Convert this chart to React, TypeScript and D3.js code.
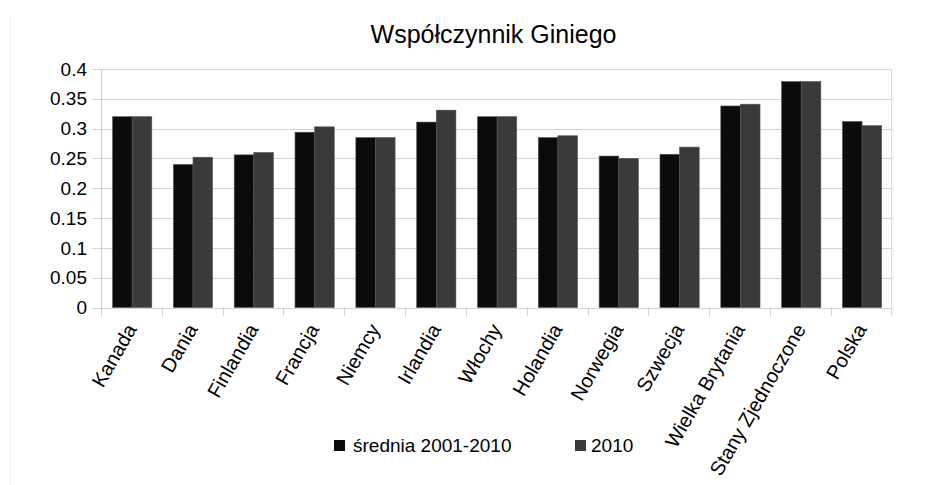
import React from "react";
import * as d3 from "d3";

const countries = [
  "Kanada", "Dania", "Finlandia", "Francja", "Niemcy", "Irlandia", "Włochy",
  "Holandia", "Norwegia", "Szwecja", "Wielka Brytania", "Stany Zjednoczone", "Polska",
];
const avg2001_2010 = [0.32, 0.24, 0.256, 0.294, 0.285, 0.311, 0.32, 0.285, 0.254, 0.257, 0.338, 0.379, 0.312];
const val2010 = [0.32, 0.252, 0.26, 0.303, 0.285, 0.331, 0.32, 0.288, 0.25, 0.269, 0.341, 0.379, 0.305];
const seriesNames = ["średnia 2001-2010", "2010"];
const seriesColors = ["#0b0b0b", "#3a3a3a"];
const yTicks = [0, 0.05, 0.1, 0.15, 0.2, 0.25, 0.3, 0.35, 0.4];
const title = "Współczynnik Giniego";

const W = 942, H = 485;
const left = 101, right = 891.7, top = 69, bottom = 307.5;
const font = "'Liberation Sans', Arial, sans-serif";

export default function App() {
  const x = d3.scaleBand<string>().domain(countries).range([left, right]).padding(0);
  const bw = x.bandwidth();
  const xs = d3.scaleBand<string>().domain(["0", "1"]).range([bw * 0.19, bw * 0.835]).padding(0);
  const y = d3.scaleLinear().domain([0, 0.4]).range([bottom, top]);
  const series = [avg2001_2010, val2010];
  const fmt = (v: number) => (v === 0 ? "0" : String(+v.toFixed(2)));

  return (
    <svg width={W} height={H} style={{ position: "absolute", left: 0, top: 0, background: "#fff" }}>
      <line x1={10.5} x2={10.5} y1={14} y2={H} stroke="#eeeeee" strokeWidth={1} />
      <text x={493.5} y={43} textAnchor="middle" fontFamily={font} fontSize={25} fill="#000">{title}</text>
      {yTicks.map((t) => (
        <g key={t}>
          <line x1={left - 9} x2={right} y1={Math.round(y(t)) + 0.5} y2={Math.round(y(t)) + 0.5} stroke="#d4d4d4" strokeWidth={1} />
          <text x={87} y={y(t)} dy="0.35em" textAnchor="end" fontFamily={font} fontSize={19} fill="#000">{fmt(t)}</text>
        </g>
      ))}
      <line x1={left + 0.5} x2={left + 0.5} y1={top} y2={316} stroke="#cfcfcf" strokeWidth={1} />
      <line x1={right} x2={right} y1={top} y2={316} stroke="#d4d4d4" strokeWidth={1} />
      {countries.map((c) => (
        <line key={"t" + c} x1={Math.round(x(c)!) + 0.5} x2={Math.round(x(c)!) + 0.5} y1={bottom} y2={316} stroke="#d4d4d4" strokeWidth={1} />
      ))}
      {countries.map((c, i) => (
        <g key={c}>
          {series.map((s, j) => (
            <rect
              key={j}
              x={x(c)! + xs(String(j))!}
              y={y(s[i])}
              width={xs.bandwidth()}
              height={bottom - y(s[i])}
              fill={seriesColors[j]}
              stroke="#555"
              strokeWidth={0.6}
            />
          ))}
        </g>
      ))}
      {countries.map((c) => {
        const cx = x(c)! + bw / 2;
        return (
          <text
            key={"l" + c}
            transform={`translate(${cx + 6},${329}) rotate(-60)`}
            textAnchor="end"
            fontFamily={font}
            fontSize={20}
            fill="#000"
          >
            {c}
          </text>
        );
      })}
      <rect x={334} y={440} width={11} height={11} fill={seriesColors[0]} />
      <text x={353} y={452} fontFamily={font} fontSize={19} fill="#000">{seriesNames[0]}</text>
      <rect x={575} y={440} width={11} height={11} fill={seriesColors[1]} />
      <text x={591} y={452} fontFamily={font} fontSize={19} fill="#000">{seriesNames[1]}</text>
    </svg>
  );
}
